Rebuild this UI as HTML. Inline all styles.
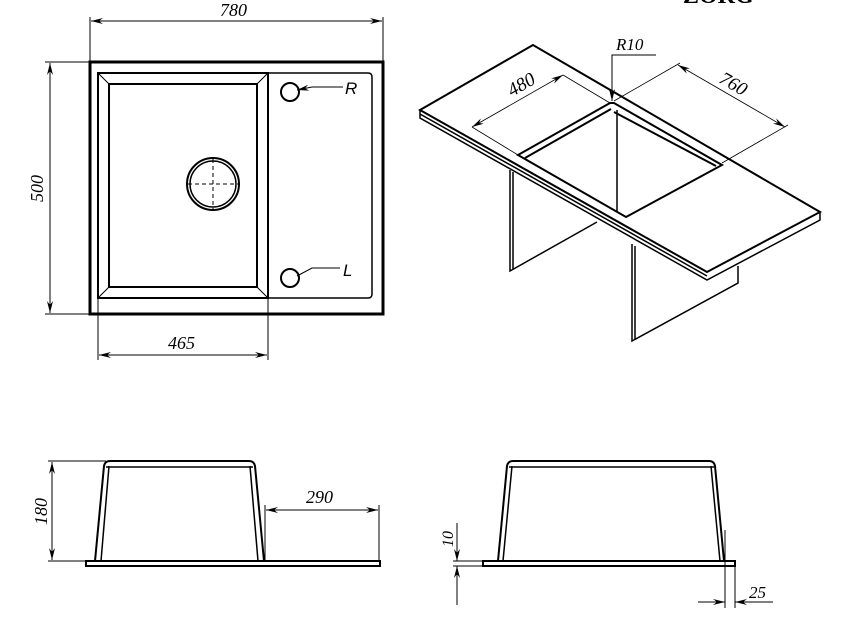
<!DOCTYPE html>
<html><head><meta charset="utf-8"><style>
html,body{margin:0;padding:0;background:#fff;width:843px;height:622px;overflow:hidden}
svg text{font-family:"Liberation Serif",serif;font-style:italic;fill:#000}
</style></head><body>
<svg width="843" height="622" viewBox="0 0 843 622" xmlns="http://www.w3.org/2000/svg">
<defs>
<marker id="a" viewBox="0 0 12 6" refX="12" refY="3" markerWidth="12" markerHeight="6" orient="auto-start-reverse" markerUnits="userSpaceOnUse"><path d="M0,0 L12,3 L0,6 L4,3 z" fill="#000"/></marker>
</defs>
<g fill="none" stroke="#000" stroke-width="1">
<rect x="90" y="62" width="293" height="252" stroke-width="3"/>
<path d="M98,73 H368 Q372,73 372,77 V294 Q372,298 368,298 H98 Z" stroke-width="1.5"/>
<rect x="98" y="73" width="170" height="225" stroke-width="2"/>
<rect x="109" y="84" width="148" height="203" stroke-width="2"/>
<path d="M98,73 L109,84 M268,73 L257,84 M98,298 L109,287 M268,298 L257,287"/>
<circle cx="213" cy="184" r="26" stroke-width="2"/>
<circle cx="213" cy="184" r="23" stroke-width="1.5"/>
<path d="M188,184 H238 M213,159 V209" stroke-dasharray="4,3"/>
<circle cx="290" cy="92" r="9" stroke-width="2"/>
<circle cx="290" cy="278" r="9" stroke-width="2"/>
<path d="M297,90 L312,87 H343 M297,276 L312,268 H340" marker-start="url(#a)"/>
<path d="M90,17 V62 M383,17 V62"/>
<path d="M91,21 H382" marker-start="url(#a)" marker-end="url(#a)"/>
<path d="M45,62 H90 M45,314 H90"/>
<path d="M50,63 V313" marker-start="url(#a)" marker-end="url(#a)"/>
<path d="M98,298 V360 M268,298 V360"/>
<path d="M99,355 H267" marker-start="url(#a)" marker-end="url(#a)"/>
<path d="M533,45 L420,110 L707,272 L820,212 Z" stroke-width="2"/>
<path d="M420,110 V118 L707,280 L820,220 V212 M420,114 L707,276" stroke-width="1.5"/>
<path d="M610,103 L518,155 L626,217 L722,165 L614,103 Z" stroke-width="2"/>
<path d="M611,109 L525,158 M614,112 L716,166" stroke-width="2"/>
<path d="M617,110 V212" stroke-width="1.5"/>
<path d="M510,170 V271 L597,222 M513,172 V270" stroke-width="1.5"/>
<path d="M632,244 V341 L738,283 V266 M635,246 V340" stroke-width="1.5"/>
<path d="M472,127 L518,155 M563,75 L610,103" stroke-width="0.8"/>
<path d="M472,127 L563,75" marker-start="url(#a)" marker-end="url(#a)" stroke-width="0.8"/>
<path d="M614,101 L680,63 M722,163 L788,125" stroke-width="0.8"/>
<path d="M678,65 L785,127" marker-start="url(#a)" marker-end="url(#a)" stroke-width="0.8"/>
<path d="M656,55 H612 V101" marker-end="url(#a)"/>
<rect x="86" y="561" width="294" height="5" stroke-width="2"/>
<path d="M95,561 L104,466 Q105,461 110,461 H249 Q254,461 255,466 L264,561" stroke-width="2"/>
<path d="M101,561 L109,466 M258,561 L250,466 M106,467 H253" stroke-width="1.5"/>
<path d="M48,461 H106 M48,561 H86"/>
<path d="M52,462 V560" marker-start="url(#a)" marker-end="url(#a)"/>
<path d="M265,505 V561 M379,505 V561"/>
<path d="M266,510 H378" marker-start="url(#a)" marker-end="url(#a)"/>
<rect x="483" y="561" width="252" height="5" stroke-width="2"/>
<path d="M498,561 L507,466 Q508,461 513,461 H709 Q714,461 715,466 L724,561" stroke-width="2"/>
<path d="M503,561 L512,466 M720,561 L711,466 M509,467 H714" stroke-width="1.5"/>
<path d="M453,561 H483 M453,566 H483"/>
<path d="M457,523 V561" marker-end="url(#a)"/>
<path d="M457,605 V566" marker-end="url(#a)"/>
<path d="M725,530 V608 M735,566 V608"/>
<path d="M698,602 H725" marker-end="url(#a)"/>
<path d="M773,602 H735" marker-end="url(#a)"/>
</g>
<text x="220" y="16" font-size="18">780</text>
<text x="168" y="349" font-size="18">465</text>
<text x="345" y="94" font-size="17" style="font-family:'Liberation Sans',sans-serif">R</text>
<text x="343" y="276" font-size="17" style="font-family:'Liberation Sans',sans-serif">L</text>
<text transform="translate(43,202) rotate(-90)" font-size="18">500</text>
<text transform="translate(512,97) rotate(-30)" font-size="19">480</text>
<text transform="translate(718,82) rotate(30)" font-size="19">760</text>
<text x="616" y="50" font-size="17">R10</text>
<text x="683" y="3" font-size="24" font-weight="bold" style="font-style:normal">ZORG</text>
<text transform="translate(47,525) rotate(-90)" font-size="18">180</text>
<text x="306" y="503" font-size="18">290</text>
<text transform="translate(453,547) rotate(-90)" font-size="16">10</text>
<text x="749" y="598" font-size="17">25</text>
</svg>
</body></html>
